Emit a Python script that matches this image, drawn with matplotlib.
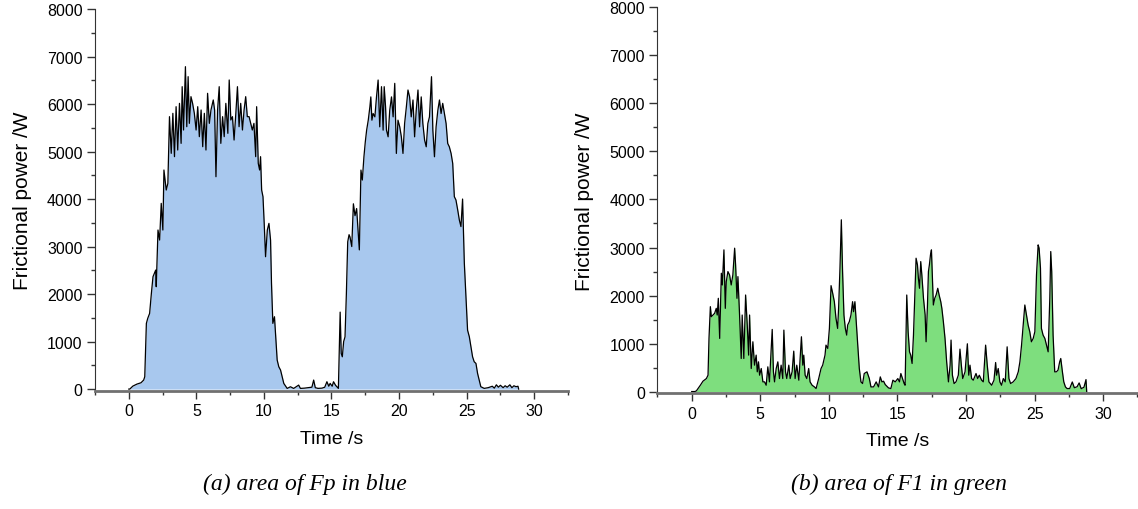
import matplotlib
matplotlib.use('Agg')
import matplotlib.pyplot as plt
from matplotlib.ticker import MultipleLocator

plt.rcParams['font.family'] = ['Liberation Sans', 'DejaVu Sans']

# (a) Fp: time (s), frictional power (W)
fp_t = [0, 0.07, 0.3, 0.6, 0.9, 1.1, 1.18, 1.3, 1.4, 1.54, 1.67, 1.79, 1.99,
        2.03, 2.16, 2.28, 2.4, 2.52, 2.6, 2.77, 2.89, 3.01, 3.14, 3.26, 3.38,
        3.5, 3.62, 3.75, 3.87, 3.95, 4.05, 4.19, 4.29, 4.39, 4.48, 4.6, 4.72,
        4.85, 4.98, 5.1, 5.22, 5.35, 5.47, 5.59, 5.71, 5.83, 5.96, 6.08, 6.25,
        6.35, 6.45, 6.57, 6.69, 6.81, 6.94, 7.06, 7.18, 7.33, 7.43, 7.55, 7.67,
        7.79, 7.92, 8.04, 8.16, 8.28, 8.41, 8.53, 8.65, 8.77, 8.9, 9.02, 9.14,
        9.26, 9.39, 9.46, 9.58, 9.68, 9.75, 9.83, 9.93, 10.02, 10.12, 10.25,
        10.37, 10.49, 10.56, 10.66, 10.78, 10.86, 10.98, 11.1, 11.23, 11.35,
        11.47, 11.72, 11.96, 12.2, 12.57, 12.7, 13.0, 13.3, 13.55, 13.68, 13.8,
        14.0, 14.3, 14.5, 14.66, 14.8, 14.9, 15.05, 15.15, 15.3, 15.4, 15.51,
        15.64, 15.72, 15.8, 15.9, 16.0, 16.1, 16.2, 16.3, 16.37, 16.5, 16.62,
        16.74, 16.86, 16.96, 17.06, 17.18, 17.28, 17.4, 17.5, 17.6, 17.72,
        17.84, 17.91, 17.99, 18.08, 18.21, 18.33, 18.45, 18.57, 18.7, 18.82,
        18.9, 19.0, 19.07, 19.19, 19.31, 19.44, 19.56, 19.68, 19.8, 19.92,
        20.05, 20.17, 20.29, 20.41, 20.54, 20.66, 20.78, 20.9, 21.03, 21.15,
        21.27, 21.4, 21.52, 21.64, 21.76, 21.89, 22.01, 22.13, 22.25, 22.4,
        22.5, 22.62, 22.74, 22.87, 22.99, 23.11, 23.23, 23.36, 23.48, 23.6,
        23.72, 23.85, 23.97, 24.09, 24.21, 24.34, 24.46, 24.58, 24.7, 24.83,
        24.95, 25.07, 25.2, 25.32, 25.44, 25.56, 25.69, 25.81, 25.93, 26.05,
        26.3, 26.6, 26.9, 27.05, 27.2, 27.35, 27.5, 27.7, 27.85, 28.0, 28.2,
        28.35, 28.5, 28.65, 28.8, 28.85]
fp_w = [0, 0, 63, 105, 133, 190, 260, 1383, 1488, 1593, 2014, 2365, 2505,
        2155, 3348, 3137, 3909, 3348, 4611, 4190, 4330, 5734, 4962, 5804, 4892,
        5944, 5032, 6014, 5172, 6365, 5453, 6786, 5523, 6576, 5593, 6155, 6014,
        5804, 5453, 5944, 5313, 5874, 5102, 5804, 5032, 6225, 5593, 5874, 6085,
        5874, 4470, 5874, 6365, 5172, 5734, 5313, 6014, 5383, 6506, 5664, 5734,
        5242, 5804, 6365, 5523, 6014, 5453, 5874, 6155, 5734, 5734, 5593, 5453,
        5593, 4892, 5944, 4751, 4611, 4892, 4190, 4049, 3488, 2786, 3348,
        3488, 3137, 2225, 1383, 1523, 1172, 611, 470, 400, 260,
        119, 14, 49, 14, 84, 14, 20, 30, 40, 190, 30,
        15, 20, 40, 155, 60, 120, 60, 155, 80, 50, 15,
        1620, 750, 680, 1000, 1100, 2000, 3100, 3250, 3200, 3000, 3900,
        3650, 3800, 3350, 2930, 4610, 4400, 4890, 5200, 5450, 5660,
        5940, 6150, 5660, 5800, 5730, 6150, 6505, 5520, 6365, 5450,
        6365, 5940, 5450, 5310, 5870, 6150, 5730, 6435, 4960, 5660,
        5520, 5310, 4960, 5590, 5940, 6295, 6150, 5730, 6085, 5310,
        5870, 6295, 5520, 6150, 5590, 5240, 5100, 5590, 5730, 6575,
        5450, 4890, 5520, 5870, 6085, 5800, 6014, 5800, 5590, 5170,
        5100, 4960, 4750, 4050, 3980, 3770, 3560, 3420, 4000, 2650,
        1945, 1240, 1100, 890, 680, 575, 540, 330, 190, 50,
        15, 30, 60, 20, 90, 40, 80, 30, 70, 40, 90,
        30, 70, 50, 60, 0]

# (b) F1
f1_t = [0, 0.22, 0.34, 0.46, 0.63, 0.82, 1.07, 1.19, 1.26, 1.36, 1.43, 1.55,
        1.67, 1.79, 1.86, 1.94, 2.04, 2.16, 2.23, 2.35, 2.45, 2.52, 2.64, 2.76,
        2.88, 3.0, 3.13, 3.2, 3.3, 3.37, 3.49, 3.61, 3.68, 3.8, 3.93, 4.05,
        4.15, 4.22, 4.34, 4.46, 4.58, 4.7, 4.78, 4.87, 4.95, 5.07, 5.19, 5.31,
        5.43, 5.55, 5.67, 5.87, 5.96, 6.04, 6.16, 6.28, 6.4, 6.52, 6.64, 6.72,
        6.84, 6.93, 7.08, 7.18, 7.32, 7.44, 7.54, 7.66, 7.81, 8.0, 8.1, 8.17,
        8.27, 8.39, 8.53, 8.63, 8.78, 8.95, 9.07, 9.26, 9.43, 9.55, 9.72, 9.79,
        9.92, 10.04, 10.16, 10.28, 10.4, 10.52, 10.64, 10.71, 10.81, 10.91,
        11.0, 11.1, 11.2, 11.3, 11.37, 11.49, 11.61, 11.73, 11.8, 11.9, 11.98,
        12.1, 12.22, 12.34, 12.46, 12.58, 12.78, 12.95, 13.07, 13.26, 13.45,
        13.62, 13.75, 13.87, 13.99, 14.11, 14.35, 14.52, 14.67, 14.84, 15.03,
        15.15, 15.25, 15.37, 15.49, 15.56, 15.68, 15.78, 15.88, 15.97, 16.07,
        16.17, 16.29, 16.36, 16.46, 16.53, 16.61, 16.7, 16.78, 16.9, 17.02,
        17.09, 17.19, 17.26, 17.33, 17.41, 17.48, 17.55, 17.62, 17.72, 17.82,
        17.94, 18.04, 18.16, 18.24, 18.35, 18.47, 18.59, 18.72, 18.84, 18.91,
        19.01, 19.13, 19.27, 19.44, 19.56, 19.66, 19.76, 19.93, 20.1, 20.2,
        20.29, 20.41, 20.53, 20.73, 20.85, 20.97, 21.14, 21.26, 21.43, 21.55,
        21.67, 21.87, 22.04, 22.16, 22.23, 22.35, 22.47, 22.59, 22.72, 22.86,
        23.0, 23.13, 23.25, 23.44, 23.64, 23.81, 23.93, 24.05, 24.17, 24.29,
        24.41, 24.53, 24.65, 24.77, 24.9, 25.02, 25.14, 25.26, 25.33, 25.43,
        25.5, 25.62, 25.75, 25.87, 25.99, 26.11, 26.18, 26.25, 26.35, 26.47,
        26.59, 26.71, 26.83, 26.91, 27.03, 27.13, 27.25, 27.37, 27.56, 27.75,
        27.9, 28.1, 28.25, 28.4, 28.6, 28.75, 28.8]
f1_w = [0, 0, 14, 63, 132, 216, 271, 341, 1107, 1768, 1559, 1594,
        1629, 1733, 1594, 1942, 1107, 2464, 2220, 2951, 1733, 2290, 2499, 2429,
        2220, 2429, 2986, 2638, 1942, 2394, 1594, 689, 1594, 689, 2011, 1385,
        759, 1594, 480, 1037, 550, 759, 411, 619, 341, 480, 202, 202,
        132, 515, 202, 1294, 411, 202, 480, 619, 271, 550, 271, 1280,
        411, 271, 550, 271, 411, 842, 271, 550, 237, 1141, 550, 759,
        341, 271, 480, 202, 132, 97, 63, 271, 480, 550, 759, 967,
        898, 1315, 2206, 2046, 1872, 1524, 1315, 1733, 2568, 3577,
        2499, 1594, 1315, 1176, 1385, 1455, 1594, 1872, 1663, 1872, 1524,
        967, 480, 202, 167, 376, 411, 271, 97, 97, 202,
        97, 306, 202, 216, 146, 76, 63, 237, 202, 271,
        202, 376, 271, 167, 132, 2011, 1246, 828, 759, 585,
        1176, 2220, 2777, 2638, 2360, 2151, 2707, 2429, 1942, 1594,
        1037, 1803, 2499, 2638, 2847, 2951, 2360, 1803, 1942, 2011,
        2151, 2011, 1872, 1733, 1455, 1107, 619, 202, 550, 1072,
        341, 167, 202, 341, 884, 550, 271, 411, 995, 341,
        550, 271, 237, 376, 271, 341, 237, 202, 967, 550,
        202, 132, 237, 605, 341, 480, 202, 132, 271, 202,
        932, 271, 167, 202, 271, 411, 619, 967, 1385, 1803,
        1594, 1385, 1246, 1037, 1107, 1246, 2429, 3055, 2986, 2568,
        1315, 1176, 1107, 967, 828, 1942, 2916, 2499, 1176, 411,
        411, 446, 619, 689, 411, 202, 97, 63, 63, 200,
        80, 100, 180, 60, 90, 250, 0]

panels = [
    (fp_t, fp_w, '#a8c8ee', [0.0835, 0.2314, 0.4156, 0.749],
     '(a) area of Fp in blue', 0.268),
    (f1_t, f1_w, '#7ede7e', [0.5777, 0.2265, 0.4218, 0.757],
     '(b) area of F1 in green', 0.79),
]

fig = plt.figure(figsize=(11.38, 5.10), dpi=100)
for t, w, fc, rect, caption, cx in panels:
    ax = fig.add_axes(rect)
    ax.fill_between(t, w, 0, color=fc, lw=0)
    ax.plot(t, w, color='black', lw=0.9)
    ax.set_xlim(-2.5, 32.5)
    ax.set_ylim(-40, 8000)
    ax.xaxis.set_major_locator(MultipleLocator(5))
    ax.xaxis.set_minor_locator(MultipleLocator(2.5))
    ax.yaxis.set_major_locator(MultipleLocator(1000))
    ax.yaxis.set_minor_locator(MultipleLocator(500))
    ax.spines['top'].set_visible(False)
    ax.spines['right'].set_visible(False)
    ax.spines['left'].set_color('#333333')
    ax.spines['bottom'].set_color('#707070')
    ax.spines['bottom'].set_linewidth(2.0)
    ax.tick_params(which='major', direction='out', length=6, width=1,
                   color='#333333', labelsize=11.5, pad=3)
    ax.tick_params(which='minor', direction='out', length=3, width=1,
                   color='#333333')
    ax.set_xlabel('Time /s', fontsize=14, labelpad=8)
    ax.set_ylabel('Frictional power /W', fontsize=15, labelpad=11)
    fig.text(cx, 0.05, caption, ha='center', va='center', fontsize=17,
             style='italic', family=['Liberation Serif', 'DejaVu Serif'])

fig.savefig('out.png', dpi=100)
